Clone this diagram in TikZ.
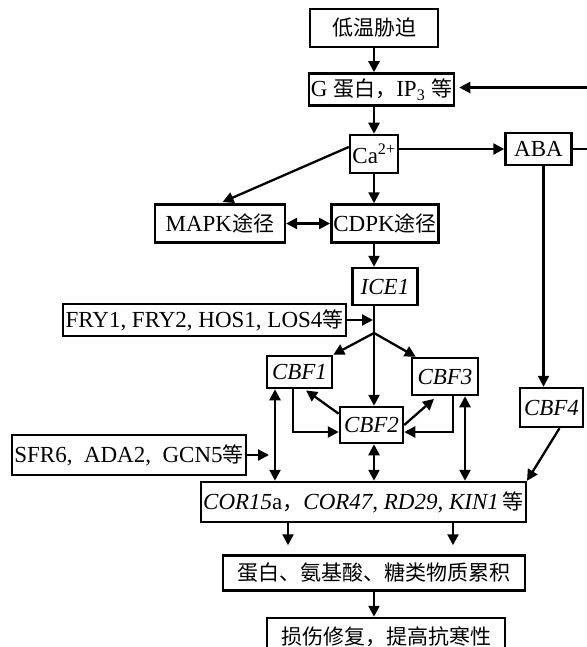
\documentclass[tikz,border=0pt]{standalone}
\usepackage{fontspec}
\setmainfont{Liberation Serif}
\newfontfamily\zh{Noto Sans CJK SC}[Scale=0.913]
\usetikzlibrary{arrows.meta,positioning}

\begin{document}
\begin{tikzpicture}[
    x=1pt, y=-1pt,
    node distance=24pt,
    box/.style={draw, line width=2.5pt, inner xsep=2pt, inner ysep=0pt, minimum height=32pt, font=\fontsize{23}{25}\selectfont, align=center},
    arrow/.style={-{Triangle[length=11pt,width=11pt]}, line width=2.3pt},
    twoway/.style={{Triangle[length=11pt,width=11pt]}-{Triangle[length=11pt,width=11pt]}, line width=2.3pt}
]
    \useasboundingbox (0,0) rectangle (586,647);

    % signal chain
    \node[box, minimum width=128pt, minimum height=38pt] (stress) at (374,28) {\zh 低温胁迫};
    \node[box, below=24pt of stress, xshift=7.5pt, minimum width=145pt] (gprot) {G {\zh 蛋白，}IP\textsubscript{3} {\zh 等}};
    \node[box, below=27pt of gprot, xshift=-7.5pt, minimum width=48pt, minimum height=38pt] (ca) {Ca\textsuperscript{2+}};
    \node[box, right=105pt of ca, yshift=5pt, minimum width=66pt] (aba) {ABA};
    \node[box, below=29pt of ca, xshift=11pt, minimum width=106pt, minimum height=38pt] (cdpk) {CDPK{\zh 途径}};
    \node[box, left=44pt of cdpk, minimum width=130pt, minimum height=38pt] (mapk) {MAPK{\zh 途径}};
    \node[box, below=23pt of cdpk, minimum width=65pt, minimum height=37pt] (ice) {\textit{ICE1}};

    % regulators and CBF genes
    \node[box, minimum width=283pt] (fry) at (204.5,320) {FRY1, FRY2, HOS1, LOS4{\zh 等}};
    \node[box, minimum width=65pt] (cbf1) at (299.5,372) {\textit{CBF1}};
    \node[box, minimum width=66pt, minimum height=37pt] (cbf3) at (445,376.5) {\textit{CBF3}};
    \node[box, minimum width=63pt, minimum height=36pt] (cbf2) at (371.5,425) {\textit{CBF2}};
    \node[box, minimum width=63pt, minimum height=39pt] (cbf4) at (551.5,407.5) {\textit{CBF4}};
    \node[box, minimum width=234pt, minimum height=40pt] (sfr) at (129,455) {SFR6,\hspace{0.5em}ADA2,\hspace{0.5em}GCN5{\zh 等}};

    % targets and effects
    \node[box, minimum width=321pt, minimum height=40pt] (cor) at (363.5,502) {\textit{COR15}a{\zh ，}\textit{COR47}, \textit{RD29}, \textit{KIN1}\,{\zh 等}};
    \node[box, below=31pt of cor, xshift=10.5pt, minimum width=302pt, minimum height=35pt] (accum) {\zh 蛋白、氨基酸、糖类物质累积};
    \node[box, below=25pt of accum, xshift=12pt, minimum width=238pt, minimum height=37pt] (repair) {\zh 损伤修复，提高抗寒性};

    \coordinate (br) at (374,333);
    \coordinate (sfrend) at (269,455);

    \draw[arrow] (stress.south) -- (stress.south |- gprot.north);
    \draw[arrow] (gprot.south -| ca) -- (ca.north);
    \draw[arrow] (ca.east |- aba) -- (aba.west);
    \draw[arrow, shorten >=4pt] (aba.east) -- ++(30,0) |- ([yshift=2pt]gprot.east);
    \draw[arrow, shorten >=3pt] ([yshift=7pt]ca.west) -- (mapk.north);
    \draw[arrow] (ca.south) -- (ca.south |- cdpk.north);
    \draw[twoway] (mapk.east) -- (cdpk.west);
    \draw[arrow] (cdpk.south -| ca) -- (ice.north -| ca);
    \draw[arrow] (ice.south -| ca) -- (cbf2.north -| ca);
    \draw[arrow, shorten >=1pt] (fry.east) -- (fry.east -| br);
    \draw[arrow] (br) -- (cbf1.north east);
    \draw[arrow] (br) -- ([xshift=5pt]cbf3.north west);
    \draw[arrow] ([xshift=-6.5pt]cbf1.south) |- ([yshift=-7pt]cbf2.west);
    \draw[arrow, shorten >=2pt] ([yshift=-8pt]cbf2.north west) -- ([xshift=5pt]cbf1.south);
    \draw[arrow, shorten >=4pt] (cbf2.east) -- ([xshift=-8pt]cbf3.south);
    \draw[arrow] ([xshift=8pt]cbf3.south) |- ([yshift=-7pt]cbf2.east);
    \draw[twoway] ([xshift=-24.5pt]cbf1.south) -- ([xshift=-24.5pt]cbf1.south |- cor.north);
    \draw[twoway] (cbf2.south -| ca) -- (cor.north -| ca);
    \draw[twoway] ([xshift=20pt]cbf3.south) -- ([xshift=20pt]cbf3.south |- cor.north);
    \draw[arrow] ([xshift=5pt]aba.south) -- ([xshift=5pt]aba.south |- cbf4.north);
    \draw[arrow] ([xshift=8pt]cbf4.south) -- (cor.north east);
    \draw[arrow] (sfr.east) -- (sfrend);
    \draw[arrow, shorten >=9pt] ([xshift=-75.5pt]cor.south) -- ([xshift=-75.5pt]cor.south |- accum.north);
    \draw[arrow, shorten >=9pt] ([xshift=89.5pt]cor.south) -- ([xshift=89.5pt]cor.south |- accum.north);
    \draw[arrow] (accum.south) -- (accum.south |- repair.north);
\end{tikzpicture}
\end{document}
